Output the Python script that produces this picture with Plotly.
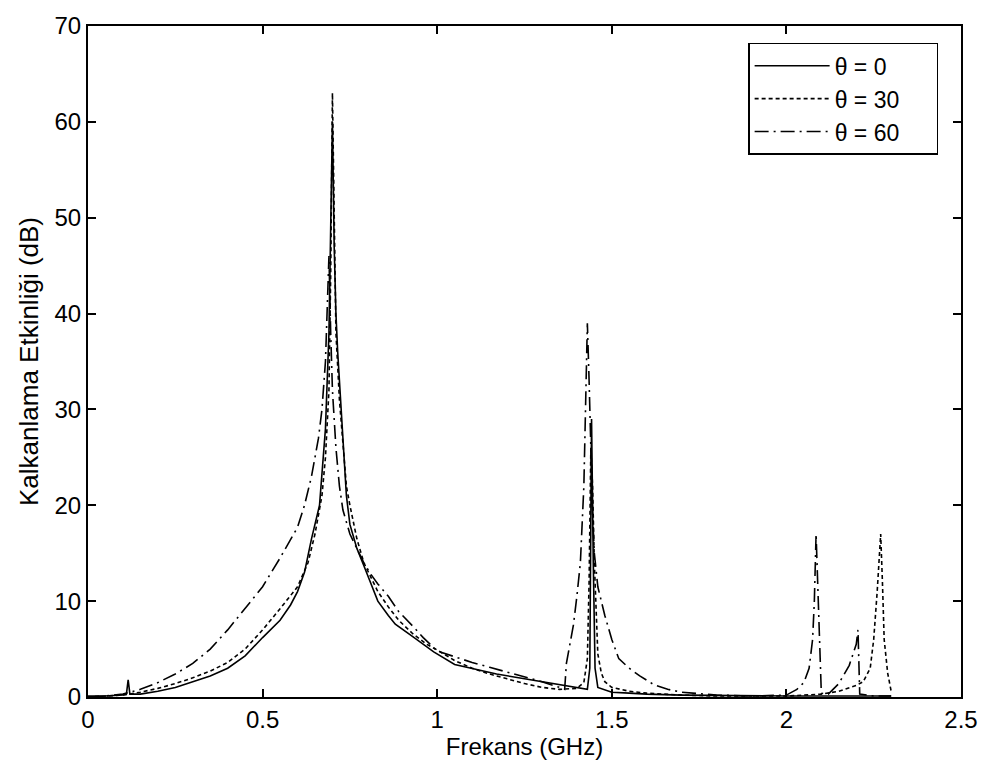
import plotly.graph_objects as go

# ---- data ----
x_ticks = [0, 0.5, 1, 1.5, 2, 2.5]
x_tick_labels = ["0", "0.5", "1", "1.5", "2", "2.5"]
y_ticks = [0, 10, 20, 30, 40, 50, 60, 70]
y_tick_labels = ["0", "10", "20", "30", "40", "50", "60", "70"]

series_names = ["θ = 0", "θ = 30", "θ = 60"]

f_theta0 = [0.00, 0.05, 0.10, 0.11, 0.115, 0.12, 0.15, 0.20, 0.25, 0.30, 0.35, 0.40, 0.45, 0.50,
            0.55, 0.58, 0.60, 0.62, 0.64, 0.663, 0.68, 0.69, 0.695, 0.70, 0.705, 0.71, 0.715,
            0.72, 0.73, 0.74, 0.75, 0.77, 0.79, 0.81, 0.83, 0.86, 0.88, 0.93, 0.99, 1.05, 1.10,
            1.17, 1.25, 1.33, 1.40, 1.43, 1.437, 1.442, 1.447, 1.452, 1.46, 1.50, 1.55, 1.60,
            1.70, 1.80, 1.90, 2.00, 2.10, 2.20, 2.30]
v_theta0 = [0.1, 0.1, 0.2, 0.3, 1.8, 0.3, 0.3, 0.6, 1.0, 1.6, 2.2, 3.0, 4.3, 6.2,
            8.0, 9.6, 11.0, 13.0, 16.5, 20.0, 28.0, 38.0, 48.0, 60.0, 47.0, 40.0, 36.0,
            33.0, 26.0, 21.0, 18.0, 15.5, 13.7, 11.8, 10.0, 8.5, 7.6, 6.3, 4.7, 3.4, 3.0,
            2.4, 1.9, 1.4, 1.0, 0.8, 3.0, 29.0, 14.0, 3.0, 1.0, 0.5, 0.4, 0.3,
            0.2, 0.15, 0.1, 0.1, 0.1, 0.1, 0.1]

f_theta30 = [0.00, 0.05, 0.10, 0.15, 0.20, 0.25, 0.30, 0.35, 0.40, 0.45, 0.50, 0.55, 0.60, 0.63,
             0.65, 0.67, 0.68, 0.69, 0.695, 0.70, 0.705, 0.71, 0.72, 0.73, 0.74, 0.75, 0.77,
             0.79, 0.81, 0.83, 0.86, 0.89, 0.93, 0.97, 1.00, 1.05, 1.10, 1.15, 1.20, 1.25, 1.30,
             1.35, 1.40, 1.42, 1.43, 1.435, 1.44, 1.445, 1.45, 1.455, 1.46, 1.47, 1.48, 1.50,
             1.55, 1.60, 1.70, 1.80, 1.90, 2.00, 2.10, 2.15, 2.20, 2.22, 2.24, 2.25, 2.26, 2.27,
             2.275, 2.28, 2.29, 2.30]
v_theta30 = [0.0, 0.1, 0.2, 0.5, 0.9, 1.4, 2.0, 2.7, 3.6, 5.0, 7.0, 9.2, 11.5, 14.0,
             17.0, 21.0, 25.0, 32.0, 44.0, 63.0, 48.0, 38.0, 31.0, 26.0, 22.0, 20.0, 16.5,
             14.0, 12.5, 11.0, 9.4, 8.0, 6.6, 5.5, 4.9, 3.8, 3.0, 2.4, 1.9, 1.4, 1.0,
             0.8, 0.9, 1.5, 4.0, 12.0, 26.0, 22.0, 14.0, 8.0, 4.5, 2.5, 1.6, 1.0,
             0.6, 0.4, 0.2, 0.1, 0.1, 0.1, 0.3, 0.6, 1.2, 1.6, 3.0, 6.0, 11.0, 17.0,
             12.0, 6.0, 2.5, 0.6]

f_theta60 = [0.00, 0.05, 0.10, 0.15, 0.20, 0.25, 0.30, 0.35, 0.40, 0.45, 0.50, 0.55, 0.60, 0.62,
             0.64, 0.66, 0.67, 0.68, 0.685, 0.69, 0.695, 0.70, 0.71, 0.72, 0.73, 0.75, 0.77,
             0.79, 0.81, 0.83, 0.86, 0.89, 0.93, 0.96, 1.00, 1.05, 1.10, 1.15, 1.20, 1.25, 1.30,
             1.35, 1.365, 1.37, 1.38, 1.39, 1.40, 1.41, 1.42, 1.425, 1.43, 1.435, 1.44, 1.445,
             1.45, 1.46, 1.48, 1.50, 1.52, 1.55, 1.58, 1.62, 1.66, 1.70, 1.80, 1.90, 2.00, 2.03,
             2.05, 2.065, 2.075, 2.08, 2.085, 2.09, 2.095, 2.10, 2.12, 2.15, 2.18, 2.20, 2.205,
             2.21, 2.25, 2.30]
v_theta60 = [0.0, 0.1, 0.3, 0.8, 1.5, 2.4, 3.5, 5.0, 7.0, 9.2, 11.5, 14.5, 17.7, 20.0,
             23.0, 27.0, 30.0, 35.0, 40.0, 46.0, 38.0, 32.0, 26.0, 22.0, 19.5, 17.0, 15.5,
             14.0, 12.8, 11.8, 10.5, 8.9, 7.4, 6.2, 4.8, 4.2, 3.6, 3.1, 2.6, 2.1, 1.6,
             1.0, 0.8, 3.5, 5.5, 7.5, 10.5, 14.0, 22.0, 30.0, 39.0, 33.0, 25.0, 19.0,
             15.0, 11.5, 8.5, 6.0, 4.0, 3.0, 2.2, 1.3, 0.8, 0.5, 0.2, 0.1, 0.2, 0.8,
             1.5, 3.0, 6.0, 10.0, 17.0, 12.0, 5.0, 0.4, 0.3, 1.4, 3.3, 5.5, 7.0,
             0.3, 0.1, 0.1]

# ---- figure ----
FONT = "Liberation Sans, Arial, sans-serif"
PAD = "\u00a0" * 5  # right padding inside the legend box

fig = go.Figure()
styles = [dict(dash="solid", width=1.6),
          dict(dash="4px,3px", width=1.6),
          dict(dash="14px,5px,2px,5px", width=1.6)]
for i, (name, fx, fy, st) in enumerate(zip(series_names,
                                            [f_theta0, f_theta30, f_theta60],
                                            [v_theta0, v_theta30, v_theta60],
                                            styles)):
    fig.add_trace(go.Scatter(x=fx, y=fy, mode="lines", name=name + PAD,
                             line=dict(color="black", **st)))

axis_common = dict(showline=True, linecolor="black", linewidth=2, mirror="ticks",
                   ticks="inside", ticklen=8, tickwidth=1.5, tickcolor="black",
                   showgrid=False, zeroline=False,
                   tickfont=dict(family=FONT, size=24, color="black"))

fig.update_xaxes(range=[0, 2.5], tickvals=x_ticks, ticktext=x_tick_labels,
                 title=dict(text="Frekans (GHz)", font=dict(family=FONT, size=24, color="black"),
                            standoff=2),
                 **axis_common)
fig.update_yaxes(range=[0, 70], tickvals=y_ticks, ticktext=y_tick_labels,
                 title=dict(text="Kalkanlama Etkinliği (dB)",
                            font=dict(family=FONT, size=26, color="black"), standoff=8),
                 **axis_common)

fig.update_layout(
    width=990, height=775,
    margin=dict(l=88, r=26, t=15, b=78),
    paper_bgcolor="white", plot_bgcolor="white",
    font=dict(family=FONT, color="black"),
    legend=dict(x=0.9738, y=0.975, xanchor="right", yanchor="top",
                bgcolor="white", bordercolor="black", borderwidth=1.5,
                font=dict(family=FONT, size=23, color="black"),
                itemwidth=75),
    showlegend=True,
)

fig.write_html("out.html")
